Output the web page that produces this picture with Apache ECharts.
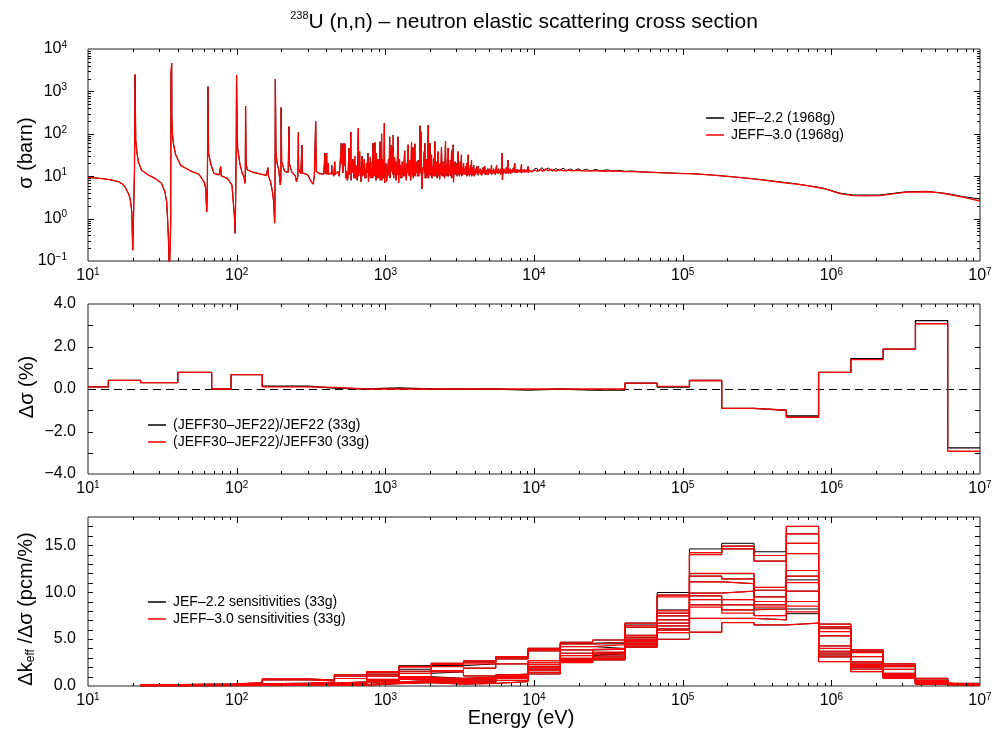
<!DOCTYPE html>
<html>
<head>
<meta charset="utf-8">
<script src="https://cdn.jsdelivr.net/npm/echarts@6/dist/echarts.min.js"></script>
<style>
  html, body { margin: 0; padding: 0; background: #fff; }
  #chart { width: 995px; height: 738px; }
</style>
</head>
<body>
<div id="chart"></div>
<script>
const FONT = '"Liberation Sans", Arial, Helvetica, sans-serif';

// ---------------------------------------------------------------------------
// Pointwise elastic cross section [E (eV), sigma (barn)].
// Below ~9.4 keV both evaluations carry the same resolved resonances.
const resolvedRegion = [
  [10,9.4],[11.5,9.0],[13,8.6],[14.5,8.1],[16,7.4],[17,6.6],[17.7,5.7],[18.7,3.9],[19.2,3.0],[19.7,1.45],
  [20.0,0.18],[20.25,1.2],[20.55,15],[20.7,2500],[20.85,2450],[20.95,69],[21.3,38],[21.8,22],[22.9,14],
  [25.4,10.7],[28.2,8.9],[31.2,6.8],[32.9,4.3],[33.8,2.5],[34.3,1.0],[34.8,0.3],[35.2,0.04],[35.9,0.04],
  [36.0,0.8],[36.15,2600],[36.4,2700],[36.55,4600],[36.65,250],[36.9,110],[37.5,60],[38.9,32],[42,18],
  [49,13.3],[55.8,11.1],[60.3,7.4],[61.9,5.2],[62.9,1.45],[63.4,3.5],[63.8,60],[64.1,1300],[64.5,1280],
  [64.7,35],[66.8,20],[70.3,11.7],[76,10.7],[77.6,10.3],[78.1,16.8],[78.7,10.2],[80,9.8],[86.5,8.9],
  [93,6.2],[96.8,1.0],[97.6,0.45],[98.3,2.0],[99.3,40],[99.8,2450],[100.4,2400],[100.8,135],[101.5,46],
  [105,20],[109,11.7],[112,9.8],[113.6,6.8],[114.3,9],[114.8,450],[115.3,420],[115.8,20],[118,14],
  [132,12.1],[147,11.1],[158,10.5],[161.8,10.1],[162.5,15.9],[163.3,10.2],[169,7.4],[174,4.3],[177.5,2.5],
  [180,0.78],[180.8,1.5],[181.5,40],[182,1950],[183,1900],[183.8,38],[187,20],[192,14],[196.5,6.2],
  [198.3,8],[199,414],[200,400],[200.8,22],[210,13],[222,12.3],[224.3,11.5],[225,148],[226,20],[235,12.5],
  [248,10.2],[252.5,7.4],[258,10],[260,108],[261,15],[270,11.5],[274,12],[275,54],[276.5,12],[300,10.8],
  [318,7.4],[327,6.5],[333,10],[340,195],[342,190],[343.5,13],[360,11.5],[385,11.2],[391,12],[393,35],
  [395,11.5],[399,12],[403,35],[405,11],[411,12],[413,20],[415,11],[420,11.5],[434,12],[436,18],[438,11],
  [445,12.5],[450,10],[455,11],[457,22],[459,11],[465,12],[472,10.5],[480,13],[490,10],[496,11],[500,9],
  [503,40],[505,60],[508,20],[512,58],[515,30],[518,12],[522,25],[526,60],[530,18],[535,58],[537,40],
  [541,9],[546,13],[550,11.9],[555,8],[560,9],[565,20],[569,46],[572,11],[578,14],[583,30],[586,110],
  [589,8],[594,20],[600,12],[605,25],[610,14],[616,9],[622,30],[628,9],[634,18],[640,12],[646,8],[652,25],
  [658,135],[662,10],[667,22],[672,38],[676,12],[682,16],[687,7.4],[692,13],[698,30],[703,10],[710,18],
  [716,11],[722,25],[728,9],[735,14],[740,9],[746,20],[752,12],[758,12],[764,35],[770,7.4],[776,14],
  [781,20],[786,10],[792,28],[800,9],[806,15],[812,11],[818,22],[822,9],[826,60],[830,54],[834,10],
  [840,12],[846,30],[851,62],[855,10],[862,16],[867,8],[872,35],[878,11],[884,14],[890,9],[896,25],
  [902,9],[908,14],[914,10],[920,65],[925,8],[932,20],[938,10],[944,100],[948,8],[954,18],[960,11],
  [966,25],[972,9],[978,14],[985,178],[990,7],[996,13],
  [1000,13],[1010,20],[1020,7.5],[1030,12],[1040,15],[1050,25],[1060,10],[1070,85],[1076,9],[1085,14],
  [1092,30],[1100,54],[1106,13],[1113,20],[1120,48],[1125,11],[1130,94],[1137,9],[1145,15],[1152,28],
  [1160,20],[1168,10],[1175,22],[1182,8],[1190,18],[1198,11],[1207,30],[1216,85],[1222,80],[1229,7],
  [1238,15],[1246,25],[1254,11],[1262,18],[1271,9],[1280,14],[1290,9],[1300,22],[1310,11],[1320,18],
  [1330,10],[1340,26],[1350,40],[1358,10],[1367,16],[1376,11],[1385,8],[1395,20],[1405,12],[1415,30],
  [1425,55],[1431,11],[1441,17],[1450,10],[1460,14],[1470,24],[1480,8],[1490,15],[1500,62],[1508,12],
  [1518,20],[1526,10],[1534,48],[1543,9],[1552,16],[1562,11],[1572,28],[1580,58],[1588,10],[1598,18],
  [1608,12],[1620,13],[1632,22],[1644,10],[1655,15],[1665,24],[1675,10],[1688,18],[1700,12],[1711,155],
  [1720,12],[1728,25],[1735,112],[1745,12],[1756,8],[1768,5.0],[1780,11],[1790,16],[1800,14],[1812,22],
  [1827,38],[1836,12],[1845,60],[1854,9],[1866,18],[1878,11],[1890,25],[1900,13],[1912,9],[1925,20],
  [1943,161],[1953,9],[1966,16],[1980,11],[1995,60],[2008,11],[2020,20],[2033,10],[2046,32],[2058,9],
  [2072,16],[2086,11],[2100,14],[2115,26],[2130,10],[2140,18],[2153,66],[2165,10],[2180,17],[2200,12],
  [2215,22],[2230,9],[2248,15],[2266,38],[2278,10],[2295,18],[2310,12],[2320,8.5],[2340,20],[2360,11],
  [2375,25],[2386,48],[2394,30],[2408,10],[2425,17],[2440,12],[2455,22],[2470,10],[2485,16],[2500,9],
  [2520,22],[2540,66],[2554,10],[2570,18],[2585,12],[2600,13],[2620,25],[2635,10],[2648,46],[2660,10],
  [2680,18],[2700,11],[2720,14],[2740,24],[2760,10],[2775,16],[2790,40],[2800,9],[2820,17],[2840,12],
  [2860,55],[2875,7.2],[2895,14],[2920,12],[2945,22],[2960,11],[2980,16],[3000,12],[3020,20],[3040,10],
  [3065,15],[3090,38],[3100,11],[3125,18],[3150,10],[3170,14],[3195,22],[3220,11],[3250,32],[3265,10],
  [3290,16],[3310,11],[3330,13],[3360,20],[3380,11],[3400,10],[3430,15],[3455,11],[3480,17],[3500,12],
  [3520,20],[3540,10],[3570,14],[3590,11],[3610,32],[3620,11],[3650,16],[3680,10],[3700,14],[3730,18],
  [3760,11],[3780,15],[3800,24],[3812,10],[3840,16],[3870,11],[3900,13],[3930,18],[3960,10],[3990,14],
  [4030,11],[4060,15],[4100,12],[4130,17],[4160,11],[4210,17],[4230,10.5],[4260,14],[4300,12],[4350,15],
  [4390,11],[4420,14],[4450,10.5],[4490,13],[4520,11.5],[4550,16],[4590,12],[4630,14],[4670,17],[4690,11],
  [4730,13.5],[4770,11],[4800,14],[4840,12],[4880,15],[4920,10.8],[4960,13],[5000,15],[5040,12],[5080,14],
  [5120,11.5],[5180,18],[5200,11],[5250,14],[5300,12],[5350,15],[5400,11.5],[5450,13.5],[5500,11],
  [5560,15],[5600,18],[5620,12],[5680,14],[5720,11.5],[5780,15],[5830,12],[5900,14],[5950,11],[6000,15],
  [6060,12],[6110,35],[6130,8.2],[6170,13],[6220,11.5],[6280,15],[6330,12],[6400,14],[6460,11.5],
  [6520,16],[6580,12],[6640,14],[6700,24],[6720,11.5],[6780,14],[6850,12],[6900,15],[6960,11.5],
  [7030,14],[7100,12],[7170,15],[7250,12.5],[7330,15],[7430,20],[7450,12],[7530,14],[7600,12],
  [7680,14.5],[7760,12.2],[7850,14],[7940,12.5],[8030,14],[8120,12.3],[8240,19],[8260,12],[8350,14],
  [8450,12.5],[8550,14.5],[8650,12.4],[8750,14],[8850,12.5],[8950,14.2],[9050,12.6],[9130,17],[9150,12],
  [9250,14],[9350,12.8],[9400,14]
];

// Unresolved range and fast region, JEF-2.2
const jef22Upper = [
  [9700,12.8],[10000,14.5],[10400,15.5],[10800,13],[11300,16],[11800,13.5],[12500,15.8],[13200,13],
  [14000,15.2],[14800,13.6],[15700,15.5],[16600,13.2],[17600,14.8],[18600,13.4],[19800,15],[21000,13.5],
  [22500,14.6],[24000,13.2],[26000,14.5],[28000,13.3],[31000,14.2],[34000,13.1],[37000,13.8],[41000,13.0],
  [46000,13.3],[52000,12.7],[60000,12.5],[70000,12.1],[90000,11.8],[123000,11.3],[160000,10.6],
  [209000,9.8],[350000,8.2],[583000,6.6],[870000,5.3],[1140000,4.0],[1400000,3.6],[2100000,3.6],
  [3200000,4.3],[4400000,4.4],[6000000,3.9],[7700000,3.3],[10000000,2.9]
];

// Unresolved range and fast region, JEFF-3.0
const jeff30Upper = [
  [9700,12.5],[10000,14],[10500,13],[11000,14.5],[11500,13],[12000,15],[12500,13.5],[13000,14.5],
  [14000,13.2],[15000,14.3],[16000,13.3],[17000,14],[18000,13.4],[20000,13.8],[22000,13.2],[25000,13.6],
  [30000,13.1],[35000,13.3],[40000,12.9],[46000,12.8],[55000,12.5],[70000,12.1],[90000,11.7],
  [123000,11.3],[160000,10.6],[209000,9.75],[280000,8.9],[350000,8.1],[450000,7.2],[583000,6.5],
  [700000,5.9],[870000,5.2],[1000000,4.5],[1140000,3.9],[1400000,3.5],[1700000,3.45],[2100000,3.5],
  [2600000,3.85],[3200000,4.2],[4400000,4.3],[5200000,4.1],[6000000,3.8],[7700000,3.2],[10000000,2.6]
];

// ---------------------------------------------------------------------------
// ECCO 33-group boundaries (eV), clipped at 10 eV
const groupBounds = [10, 13.70959, 22.60329, 40.169, 67.90405, 91.66088, 148.6254, 304.3248, 453.9993,
  748.5183, 1234.098, 2034.684, 3354.626, 5530.844, 9118.82, 15034.39, 24787.52, 40867.71, 67379.47,
  111090, 183156.4, 301973.8, 497870.7, 820850, 1353353, 2231302, 3678794, 6065307, 10000000];

// Relative difference per group (%)
const diffOverJef22 = [0.1, 0.41, 0.3, 0.78, 0.0, 0.68, 0.13, 0.04, 0.0, 0.05, 0.0, 0.0, 0.0, -0.05,
  0.0, -0.05, -0.05, 0.28, 0.09, 0.4, -0.91, -1.0, -1.27, 0.78, 1.43, 1.88, 3.22, -2.77];
const diffOverJeff30 = [0.1, 0.41, 0.3, 0.78, 0.0, 0.68, 0.1, 0.08, 0.0, 0.0, 0.0, 0.0, 0.0, 0.0,
  0.0, 0.0, 0.0, 0.28, 0.12, 0.4, -0.91, -1.0, -1.33, 0.78, 1.38, 1.88, 3.07, -2.93];

// keff sensitivities per benchmark (pcm/%), groups from 22.6 eV upward
const sensBounds = groupBounds.slice(2);
const sensJef22 = [
  [.15,.20,.20,.35,.75,.64,1.2,1.53,2.17,2.42,2.67,3.13,4.02,4.66,4.9,6.7,9.96,14.6,15.2,14.3,17.0,6.6,3.84,2.35,0.82,0.28],
  [.12,.15,.16,.30,.65,.55,1.05,1.4,2.1,2.3,2.55,3.0,3.9,4.55,4.66,6.5,9.68,14.2,14.9,13.9,16.2,6.3,3.7,2.2,0.75,0.25],
  [.10,.12,.13,.22,.30,.40,0.8,1.2,1.78,2.17,2.35,2.88,3.74,4.48,4.5,6.26,8.1,14.0,14.6,13.3,15.2,6.16,3.56,2.06,0.57,0.2],
  [.08,.10,.11,.18,.25,.30,0.45,1.05,1.57,1.64,1.9,2.35,2.7,4.2,4.0,5.4,7.76,11.96,11.96,10.5,14.1,5.8,3.13,1.78,0.5,0.18],
  [.07,.09,.10,.15,.20,.25,0.38,0.7,1.35,1.5,1.07,1.28,2.5,3.84,3.9,5.2,7.47,11.7,11.4,10.2,12.3,5.34,2.6,1.35,0.45,0.16],
  [.06,.08,.09,.13,.18,.20,0.32,0.64,1.0,0.82,0.95,1.2,2.3,3.49,3.6,5.0,7.05,11.1,10.9,9.5,11.7,4.27,2.45,1.25,0.4,0.14],
  [.05,.07,.08,.11,.15,.18,0.28,0.55,0.8,0.7,0.82,1.1,2.1,3.24,3.45,4.85,6.7,9.9,10.1,9.0,11.3,4.0,2.3,1.15,0.35,0.13],
  [.05,.06,.07,.10,.13,.15,0.24,0.48,0.7,0.57,0.7,1.0,1.95,2.95,3.3,4.7,6.4,9.6,9.2,8.65,10.1,3.7,2.2,1.05,0.3,0.12],
  [.04,.05,.06,.08,.11,.13,0.2,0.42,0.6,0.45,0.57,0.9,1.8,2.85,3.1,4.55,6.1,9.2,8.65,8.2,9.0,3.5,2.1,1.0,0.28,0.11],
  [.03,.04,.05,.07,.10,.11,0.16,0.36,0.5,0.35,0.45,0.82,1.7,2.7,2.95,4.4,5.95,8.65,8.1,7.5,8.2,3.3,2.0,0.95,0.25,0.1],
  [.03,.03,.04,.06,.08,.09,0.13,0.3,0.4,0.28,0.36,0.6,1.46,2.6,2.85,4.25,5.69,7.2,7.2,7.05,7.7,3.1,1.8,0.9,0.22,0.1],
  [.02,.03,.03,.05,.06,.07,0.1,0.25,0.35,0.2,0.28,0.46,1.28,2.5,2.78,4.13,4.98,5.73,6.76,6.5,6.7,2.6,1.53,0.82,0.2,0.1]
];
const sensJeff30 = [
  [.15,.20,.20,.35,.75,.64,1.2,1.53,2.1,2.42,2.67,3.13,4.02,4.66,4.9,6.7,9.68,14.2,14.9,13.3,17.0,6.6,3.84,2.35,0.82,0.28],
  [.12,.15,.16,.30,.65,.55,1.05,1.4,2.0,2.3,2.55,3.0,3.9,4.48,4.66,6.4,9.5,14.0,14.6,13.9,16.2,6.3,3.7,2.2,0.75,0.25],
  [.10,.12,.13,.22,.30,.40,0.8,1.2,1.57,2.06,2.35,2.88,3.74,4.2,4.4,6.26,8.0,12.0,12.0,10.5,15.2,6.1,3.56,2.06,0.57,0.2],
  [.08,.10,.11,.18,.25,.30,0.45,1.05,1.35,1.64,1.9,2.35,2.7,3.84,4.0,5.4,7.76,11.7,11.4,10.2,14.1,5.8,3.13,1.78,0.5,0.18],
  [.07,.09,.10,.15,.20,.25,0.38,0.7,1.0,1.5,1.07,1.28,2.5,3.49,3.9,5.2,7.47,11.1,10.9,9.5,12.3,5.34,2.6,1.35,0.45,0.16],
  [.06,.08,.09,.13,.18,.20,0.32,0.64,0.9,0.82,0.95,1.2,2.3,3.24,3.6,5.0,7.05,9.9,10.1,9.0,11.7,4.27,2.45,1.25,0.4,0.14],
  [.05,.07,.08,.11,.15,.18,0.28,0.55,0.8,0.7,0.82,1.1,2.1,2.95,3.45,4.85,6.7,9.6,9.2,8.65,11.0,4.0,2.3,1.15,0.35,0.13],
  [.05,.06,.07,.10,.13,.15,0.24,0.48,0.7,0.57,0.7,1.0,1.95,2.85,3.3,4.7,6.4,9.2,8.65,8.4,10.1,3.7,2.2,1.05,0.3,0.12],
  [.04,.05,.06,.08,.11,.13,0.2,0.42,0.6,0.45,0.57,0.9,1.8,2.7,3.1,4.55,6.1,8.65,8.1,8.2,9.0,3.5,2.1,1.0,0.28,0.11],
  [.03,.04,.05,.07,.10,.11,0.16,0.36,0.5,0.35,0.45,0.82,1.7,2.6,2.95,4.4,5.95,8.4,7.76,7.5,8.5,3.3,2.0,0.95,0.25,0.1],
  [.03,.03,.04,.06,.08,.09,0.13,0.3,0.4,0.28,0.36,0.6,1.46,2.55,2.85,4.25,5.69,7.2,7.2,7.05,7.9,3.1,1.8,0.9,0.22,0.1],
  [.02,.03,.03,.05,.06,.07,0.1,0.25,0.35,0.2,0.28,0.46,1.28,2.5,2.78,4.13,4.98,5.73,6.76,6.5,6.7,2.6,1.53,0.82,0.2,0.1]
];

const NAME_XS_22 = 'JEF–2.2 (1968g)';
const NAME_XS_30 = 'JEFF–3.0 (1968g)';
const NAME_D_22 = '(JEFF30–JEF22)/JEF22 (33g)';
const NAME_D_30 = '(JEFF30–JEF22)/JEFF30 (33g)';
const NAME_S_22 = 'JEF–2.2 sensitivities (33g)';
const NAME_S_30 = 'JEFF–3.0 sensitivities (33g)';

// ---------------------------------------------------------------------------
// Helpers
function stepPoints(bounds, values) {
  const pts = values.map((v, i) => [bounds[i], v]);
  pts.push([bounds[values.length], values[values.length - 1]]);
  return pts;
}

const powRich = {
  b: { fontSize: 16, fontFamily: FONT, color: '#000', lineHeight: 18 },
  e: { fontSize: 10, fontFamily: FONT, color: '#000', lineHeight: 7, verticalAlign: 'top' }
};
function powLabel(v) {
  const e = Math.round(Math.log10(v));
  return '{b|10}{e|' + (e < 0 ? '−' + (-e) : e) + '}';
}
function fixedLabel(v) {
  const s = Math.abs(v).toFixed(1);
  return v < 0 ? '−' + s : s;
}

// Inside tick marks on all four frame sides
function logTicks(d0, d1) {
  const out = [];
  for (let d = d0; d < d1; d++) {
    for (let m = 1; m < 10; m++) out.push([m * Math.pow(10, d), m === 1 ? 6 : 3]);
  }
  out.push([Math.pow(10, d1), 6]);
  return out;
}
function linTicks(a, b, step, len) {
  const out = [];
  for (let v = a; v <= b + 1e-9; v += step) out.push([v, len]);
  return out;
}
function tickSeries(gridIndex, xTicks, yTicks, xRef, yRef) {
  const data = [];
  xTicks.forEach(t => data.push([t[0], yRef, 0, t[1]]));
  yTicks.forEach(t => data.push([xRef, t[0], 1, t[1]]));
  return {
    type: 'custom', xAxisIndex: gridIndex, yAxisIndex: gridIndex, silent: true, z: 5,
    data: data,
    renderItem(params, api) {
      const cs = params.coordSys;
      const kind = api.value(2), len = api.value(3);
      const p = api.coord([api.value(0), api.value(1)]);
      let segs;
      if (kind === 0) {
        const x = Math.round(p[0]) + 0.5;
        if (x < cs.x + 1 || x > cs.x + cs.width - 1) return;
        segs = [[x, cs.y, x, cs.y + len], [x, cs.y + cs.height, x, cs.y + cs.height - len]];
      } else {
        const y = Math.round(p[1]) + 0.5;
        if (y < cs.y + 1 || y > cs.y + cs.height - 1) return;
        segs = [[cs.x, y, cs.x + len, y], [cs.x + cs.width, y, cs.x + cs.width - len, y]];
      }
      return {
        type: 'group',
        children: segs.map(s => ({
          type: 'line', shape: { x1: s[0], y1: s[1], x2: s[2], y2: s[3] },
          style: { stroke: '#000', lineWidth: 1 }
        }))
      };
    }
  };
}

// ---------------------------------------------------------------------------
const grids = [
  { left: 88, top: 49, width: 892, height: 212 },
  { left: 88, top: 304, width: 892, height: 170 },
  { left: 88, top: 517, width: 892, height: 169 }
].map(g => Object.assign(g, { show: true, borderColor: '#222', borderWidth: 1, backgroundColor: 'transparent' }));

const xAxes = [0, 1, 2].map(i => ({
  type: 'log', logBase: 10, gridIndex: i, min: 10, max: 1e7, interval: 1,
  axisLine: { show: false }, axisTick: { show: false }, splitLine: { show: false },
  axisLabel: { formatter: powLabel, rich: powRich, margin: 6, showMinLabel: true, showMaxLabel: true }
}));

const yAxes = [
  {
    type: 'log', logBase: 10, gridIndex: 0, min: 0.1, max: 1e4, interval: 1,
    axisLine: { show: false }, axisTick: { show: false }, splitLine: { show: false },
    axisLabel: { formatter: powLabel, rich: powRich, margin: 21 }
  },
  {
    type: 'value', gridIndex: 1, min: -4, max: 4, interval: 2,
    axisLine: { show: false }, axisTick: { show: false }, splitLine: { show: false },
    axisLabel: { formatter: fixedLabel, fontSize: 16, fontFamily: FONT, color: '#000', margin: 12 }
  },
  {
    type: 'value', gridIndex: 2, min: 0, max: 18, interval: 5,
    axisLine: { show: false }, axisTick: { show: false }, splitLine: { show: false },
    axisLabel: { formatter: fixedLabel, fontSize: 16, fontFamily: FONT, color: '#000', margin: 12, showMaxLabel: false }
  }
];

const series = [];

// Panel 1: pointwise cross sections
series.push({
  name: NAME_XS_22, type: 'line', xAxisIndex: 0, yAxisIndex: 0, symbol: 'none', clip: true,
  color: '#000', lineStyle: { color: '#000', width: 1 },
  data: resolvedRegion.concat(jef22Upper), z: 2
});
series.push({
  name: NAME_XS_30, type: 'line', xAxisIndex: 0, yAxisIndex: 0, symbol: 'none', clip: true,
  color: '#ff0000', lineStyle: { color: '#ff0000', width: 1.3 },
  data: resolvedRegion.concat(jeff30Upper), z: 3
});

// Panel 2: group-wise differences
series.push({
  name: NAME_D_22, type: 'line', xAxisIndex: 1, yAxisIndex: 1, symbol: 'none', step: 'end', clip: true,
  color: '#000', lineStyle: { color: '#000', width: 1.3 },
  data: stepPoints(groupBounds, diffOverJef22), z: 3,
  markLine: {
    silent: true, symbol: 'none', label: { show: false },
    lineStyle: { color: '#000', type: [8, 5], width: 1 },
    data: [{ yAxis: 0 }], z: 1
  }
});
series.push({
  name: NAME_D_30, type: 'line', xAxisIndex: 1, yAxisIndex: 1, symbol: 'none', step: 'end', clip: true,
  color: '#ff0000', lineStyle: { color: '#ff0000', width: 1.3 },
  data: stepPoints(groupBounds, diffOverJeff30), z: 4
});

// Panel 3: benchmark sensitivities
sensJef22.forEach(vals => series.push({
  name: NAME_S_22, type: 'line', xAxisIndex: 2, yAxisIndex: 2, symbol: 'none', step: 'end', clip: true,
  color: '#000', lineStyle: { color: '#000', width: 1 },
  data: stepPoints(sensBounds, vals), z: 2
}));
sensJeff30.forEach(vals => series.push({
  name: NAME_S_30, type: 'line', xAxisIndex: 2, yAxisIndex: 2, symbol: 'none', step: 'end', clip: true,
  color: '#ff0000', lineStyle: { color: '#ff0000', width: 1.2 },
  data: stepPoints(sensBounds, vals), z: 3
}));

// Frame ticks
series.push(tickSeries(0, logTicks(1, 7), logTicks(-1, 4), 10, 1));
series.push(tickSeries(1, logTicks(1, 7), linTicks(-4, 4, 1, 5), 10, 0));
series.push(tickSeries(2, logTicks(1, 7), linTicks(0, 18, 1, 5), 10, 1));

function legendAt(left, top, names) {
  return {
    left: left, top: top, orient: 'vertical', data: names, selectedMode: false,
    icon: 'rect', itemWidth: 18, itemHeight: 1.5, itemGap: 3,
    textStyle: { fontSize: 14, fontFamily: FONT, color: '#000', padding: [0, 0, 0, 2] }
  };
}

const axisNameStyle = { fontSize: 20, fontFamily: FONT, fill: '#000', align: 'center', verticalAlign: 'middle' };

const option = {
  animation: false,
  backgroundColor: '#fff',
  grid: grids,
  xAxis: xAxes,
  yAxis: yAxes,
  legend: [
    legendAt(701, 106, [NAME_XS_22, NAME_XS_30]),
    legendAt(143, 413, [NAME_D_22, NAME_D_30]),
    legendAt(143, 590, [NAME_S_22, NAME_S_30])
  ],
  series: series,
  graphic: [
    {
      type: 'text', x: 524, y: 22,
      style: {
        text: '{s|238}{t|U (n,n) – neutron elastic scattering cross section}',
        align: 'center', verticalAlign: 'middle',
        rich: {
          s: { fontSize: 11, fontFamily: FONT, fill: '#000', lineHeight: 9, verticalAlign: 'top' },
          t: { fontSize: 21, fontFamily: FONT, fill: '#000', lineHeight: 23 }
        }
      }
    },
    { type: 'text', x: 26, y: 153, rotation: Math.PI / 2, style: Object.assign({ text: 'σ (barn)' }, axisNameStyle) },
    { type: 'text', x: 27, y: 387, rotation: Math.PI / 2, style: Object.assign({ text: 'Δσ (%)' }, axisNameStyle) },
    {
      type: 'text', x: 26, y: 609, rotation: Math.PI / 2,
      style: {
        text: '{m|Δk}{u|eff}{m| /Δσ (pcm/%)}', align: 'center', verticalAlign: 'middle',
        rich: {
          m: { fontSize: 20, fontFamily: FONT, fill: '#000', lineHeight: 22 },
          u: { fontSize: 12, fontFamily: FONT, fill: '#000', lineHeight: 10, verticalAlign: 'bottom' }
        }
      }
    },
    { type: 'text', x: 521, y: 718, style: Object.assign({ text: 'Energy (eV)' }, axisNameStyle) }
  ]
};

const chart = echarts.init(document.getElementById('chart'), null, { renderer: 'canvas' });
chart.setOption(option);
</script>
</body>
</html>
